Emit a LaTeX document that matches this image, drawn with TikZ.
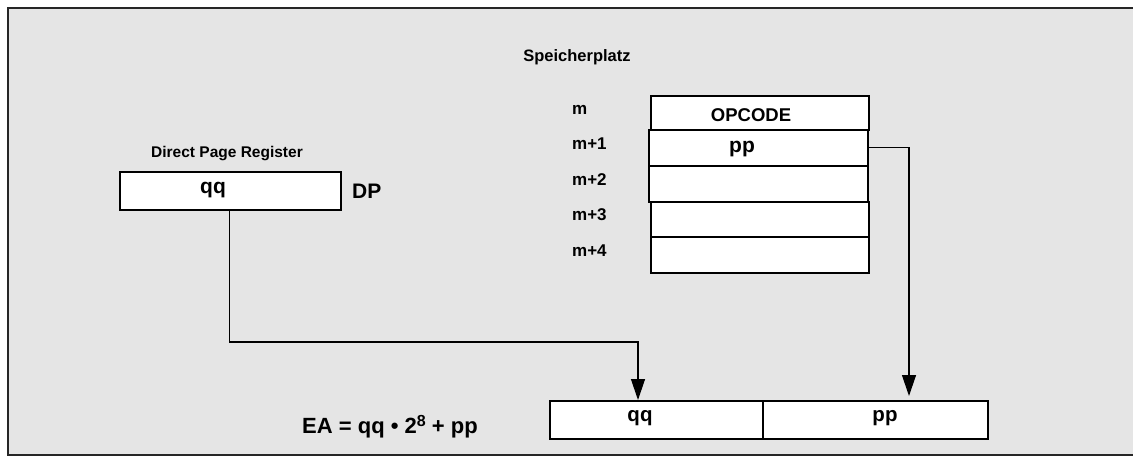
\documentclass[tikz,border=0pt]{standalone}
\usepackage{fontspec}
\setmainfont{Liberation Sans}
\usetikzlibrary{arrows.meta}
\tikzset{
  box/.style={draw=black, fill=white, line width=1.6pt, inner sep=0pt, anchor=north west},
  txt/.style={inner sep=0pt, font=\bfseries},
  conn/.style={draw=black, line width=1.3pt},
  arr/.style={conn, -{Triangle[length=21pt,width=14pt]}},
  frameline/.style={draw=black!85, line width=2pt}
}
\newcommand{\fs}[1]{\fontsize{#1}{#1}\selectfont}
\begin{document}
\begin{tikzpicture}[x=1pt,y=-1pt]
\useasboundingbox (0,0) rectangle (1133,457);
\fill[white] (0,0) rectangle (1133,457);
\fill[gray!20!white] (8,8) rectangle (1140,455);
\draw[frameline] (1140,8) -- (8,8) -- (8,455);
\draw[black!85, line width=2.6pt] (7,455) -- (1140,455);

% title texts
\node[txt, anchor=base] (title) at (577,62) {\fs{16.5}Speicherplatz};
\node[txt, anchor=base] (dpr) at (227,158) {\fs{15.5}Direct Page Register};

% memory column
\node[box, minimum width=218pt, minimum height=34pt] (op) at (650,95) {};
\node[box, minimum width=219pt, minimum height=36pt] (pp) at (648,129) {};
\node[box, minimum width=219pt, minimum height=36pt] (m2) at (648,165) {};
\node[box, minimum width=218pt, minimum height=35pt] (m3) at (650,201) {};
\node[box, minimum width=218pt, minimum height=36pt] (m4) at (650,236) {};
\node[txt, anchor=base] (optext) at (751,122) {\fs{18.5}OPCODE};
\node[txt, anchor=base] (pptext) at (742,153) {\fs{21}pp};

\node[txt, anchor=base west] (lm)  at (572,115) {\fs{17}m};
\node[txt, anchor=base west] (lm1) at (572,150) {\fs{17}m+1};
\node[txt, anchor=base west] (lm2) at (572,186) {\fs{17}m+2};
\node[txt, anchor=base west] (lm3) at (572,221) {\fs{17}m+3};
\node[txt, anchor=base west] (lm4) at (572,257) {\fs{17}m+4};

% direct page register
\node[box, minimum width=221pt, minimum height=38pt] (dp) at (119,171) {};
\node[txt, anchor=base] (dpq) at (213,194) {\fs{21}qq};
\node[txt, anchor=base west] (dplab) at (352,199) {\fs{21}DP};

% effective address
\node[box, minimum width=213pt, minimum height=38pt] (eaq) at (549,400) {};
\node[box, minimum width=225pt, minimum height=38pt] (eap) at (762,400) {};
\node[txt, anchor=base] (eaqt) at (640,421) {\fs{20.5}qq};
\node[txt, anchor=base] (eapt) at (885,421) {\fs{20.5}pp};
\node[txt, anchor=base west] (formula) at (302,433) {\fs{22}EA = qq • 2\raisebox{7pt}{\fs{16}8} + pp};

% connectors
\coordinate (b1) at (229.5,342);
\coordinate (b2) at (638,342);
\coordinate (t2) at (909,396);
\draw[arr] (dp.south -| b1) -- (b1) -- (b2) -- (b2 |- eaq.north);
\draw[arr] (pp.east) -| (t2);
\end{tikzpicture}
\end{document}
